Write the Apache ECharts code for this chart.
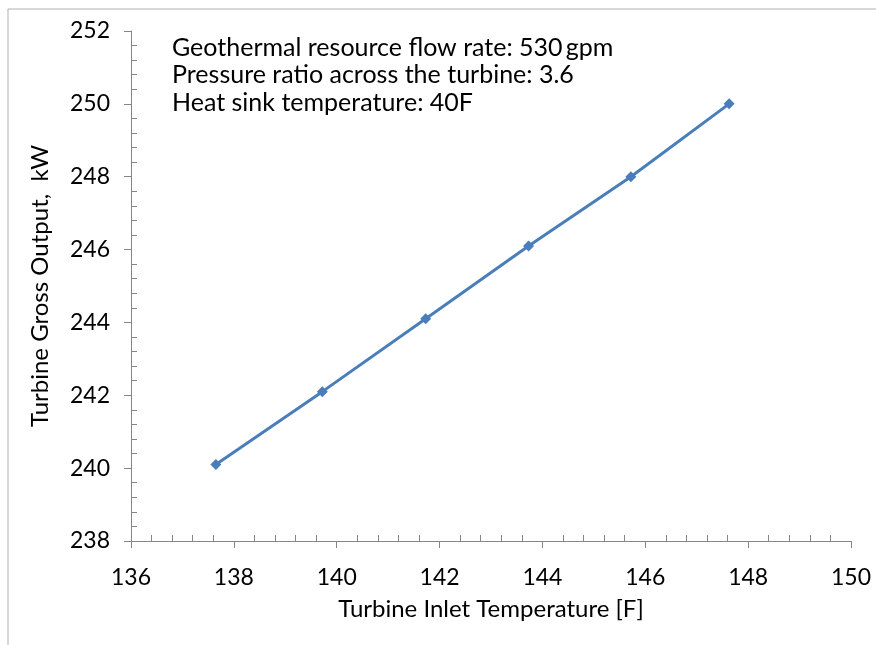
<!DOCTYPE html>
<html><head><meta charset="utf-8">
<script src="https://cdn.jsdelivr.net/npm/echarts@6/dist/echarts.min.js"></script>
<style>html,body{margin:0;padding:0;background:#fff}#c{width:876px;height:645px}</style>
</head><body><div id="c"></div>
<script>
const inletTemp = [137.65, 139.72, 141.73, 143.73, 145.72, 147.63];
const grossOutput = [240.1, 242.1, 244.1, 246.1, 248.0, 250.0];
const notes = ['Geothermal resource flow rate: 530\u2009gpm', 'Pressure ratio across the turbine: 3.6', 'Heat sink temperature: 40F'];
const xName = 'Turbine Inlet Temperature [F]';
const yName = 'Turbine Gross Output,  kW';

const FONT = 'Lato, "Open Sans", sans-serif';
const chart = echarts.init(document.getElementById('c'));
const axisCol = '#868686';
chart.setOption({
  animation: false,
  grid: {left: 131, right: 25, top: 31, bottom: 104},
  graphic: [
    {type: 'rect', shape: {x: 8, y: 9, width: 900, height: 700}, style: {fill: 'none', stroke: '#b0b0b0', lineWidth: 1}, z: -1},
    {type: 'text', left: 172, top: 34, style: {text: notes.join('\n'), font: '25px ' + FONT, fill: '#000', lineHeight: 27.5}}
  ],
  xAxis: {
    type: 'value', min: 136, max: 150, interval: 2,
    name: xName, nameLocation: 'middle', nameGap: 56,
    nameTextStyle: {fontFamily: FONT, fontSize: 24, color: '#000'},
    axisLine: {lineStyle: {color: axisCol}},
    axisTick: {show: true, length: 7, lineStyle: {color: axisCol}},
    minorTick: {show: true, splitNumber: 5, length: -6, lineStyle: {color: axisCol}},
    axisLabel: {fontFamily: FONT, fontSize: 23, color: '#000', margin: 25},
    splitLine: {show: false}
  },
  yAxis: {
    type: 'value', min: 238, max: 252, interval: 2,
    name: yName, nameLocation: 'middle', nameGap: 79,
    nameTextStyle: {fontFamily: FONT, fontSize: 24, color: '#000'},
    axisLine: {show: true, lineStyle: {color: axisCol}},
    axisTick: {show: true, length: 7, lineStyle: {color: axisCol}},
    minorTick: {show: true, splitNumber: 5, length: -6, lineStyle: {color: axisCol}},
    axisLabel: {fontFamily: FONT, fontSize: 23, color: '#000', margin: 21},
    splitLine: {show: false}
  },
  series: [{
    type: 'line',
    data: inletTemp.map((t, i) => [t, grossOutput[i]]),
    symbol: 'diamond', symbolSize: 11,
    lineStyle: {color: '#4a7ebb', width: 3},
    itemStyle: {color: '#4a7ebb'}
  }]
});
</script></body></html>
